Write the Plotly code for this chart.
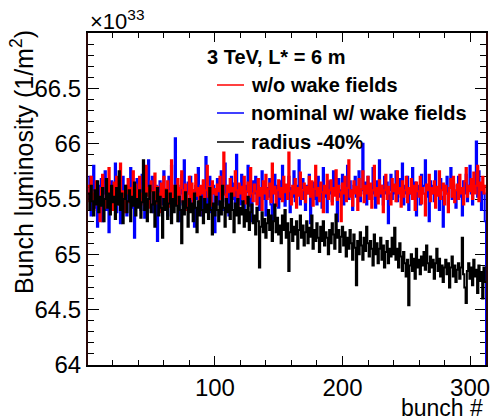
import numpy as np
import plotly.graph_objects as go

bunch = list(range(1, 313))

lumi_no_wake = [
 65.62, 65.48, 65.70, 65.55, 65.40, 65.58, 65.66, 65.45, 65.52, 65.30,
 65.60, 65.72, 65.50, 65.42, 65.63, 65.55, 65.78, 65.47, 65.58, 65.40,
 65.65, 65.53, 65.70, 65.45, 65.60, 65.82, 65.50, 65.57, 65.38, 65.62,
 65.55, 65.68, 65.47, 65.60, 65.52, 65.75, 65.44, 65.63, 65.50, 65.58,
 65.70, 65.45, 65.55, 65.62, 65.48, 65.80, 65.53, 65.60, 65.42, 65.66,
 65.57, 65.50, 65.73, 65.46, 65.61, 65.55, 65.38, 65.64, 65.52, 65.70,
 65.48, 65.59, 65.66, 65.43, 65.57, 65.85, 65.50, 65.62, 65.55, 65.45,
 65.68, 65.52, 65.60, 65.75, 65.47, 65.58, 65.63, 65.40, 65.55, 65.70,
 65.50, 65.64, 65.45, 65.58, 65.72, 65.53, 65.60, 65.36, 65.62, 65.55,
 65.67, 65.49, 65.58, 65.80, 65.52, 65.61, 65.44, 65.66, 65.55, 65.59,
 65.48, 65.63, 65.57, 65.70, 65.50, 65.60, 65.92, 65.54, 65.45, 65.62,
 65.56, 65.68, 65.47, 65.60, 65.53, 65.75, 65.58, 65.42, 65.64, 65.55,
 65.61, 65.50, 65.70, 65.46, 65.57, 65.65, 65.52, 65.78, 65.55, 65.48,
 65.63, 65.57, 65.45, 65.68, 65.53, 65.60, 65.40, 65.66, 65.55, 65.72,
 65.50, 65.59, 65.64, 65.47, 65.82, 65.55, 65.61, 65.44, 65.58, 65.67,
 65.52, 65.60, 65.48, 65.70, 65.56, 65.63, 65.50, 65.92, 65.57, 65.45,
 65.62, 65.55, 65.68, 65.42, 65.60, 65.53, 65.74, 65.50, 65.58, 65.64,
 65.47, 65.61, 65.55, 65.70, 65.52, 65.66, 65.44, 65.59, 65.80, 65.53,
 65.60, 65.48, 65.65, 65.56, 65.38, 65.62, 65.55, 65.72, 65.50, 65.58,
 65.67, 65.45, 65.60, 65.53, 65.76, 65.49, 65.62, 65.56, 65.30, 65.64,
 65.55, 65.70, 65.48, 65.60, 65.85, 65.52, 65.58, 65.44, 65.66, 65.55,
 65.61, 65.40, 65.68, 65.53, 65.59, 65.75, 65.47, 65.62, 65.55, 65.70,
 65.50, 65.64, 65.42, 65.58, 65.80, 65.53, 65.60, 65.46, 65.67, 65.55,
 65.62, 65.38, 65.58, 65.72, 65.50, 65.61, 65.55, 65.45, 65.68, 65.57,
 65.63, 65.48, 65.75, 65.55, 65.60, 65.43, 65.66, 65.52, 65.58, 65.70,
 65.47, 65.60, 65.55, 65.68, 65.50, 65.62, 65.40, 65.65, 65.57, 65.52,
 65.70, 65.46, 65.60, 65.55, 65.35, 65.63, 65.58, 65.72, 65.48, 65.60,
 65.55, 65.66, 65.42, 65.61, 65.53, 65.75, 65.50, 65.58, 65.64, 65.45,
 65.62, 65.55, 65.38, 65.60, 65.68, 65.52, 65.70, 65.47, 65.58, 65.63,
 65.50, 65.72, 65.55, 65.60, 65.45, 65.66, 65.78, 65.52, 65.62, 65.57,
 65.68, 65.50, 65.74, 65.55, 65.62, 65.80, 65.48, 65.65, 65.58, 65.70,
 65.55, 65.62]

lumi_nominal = [
 65.50, 65.70, 65.35, 65.58, 65.80, 65.42, 65.55, 65.25, 65.62, 65.48,
 65.68, 65.30, 65.55, 65.75, 65.40, 65.60, 65.20, 65.52, 65.66, 65.45,
 65.58, 65.82, 65.38, 65.50, 65.65, 65.28, 65.55, 65.70, 65.44, 65.60,
 65.35, 65.62, 65.50, 65.78, 65.42, 65.58, 65.15, 65.55, 65.68, 65.48,
 65.60, 65.40, 65.72, 65.52, 65.33, 65.62, 65.55, 65.85, 65.45, 65.58,
 65.70, 65.38, 65.55, 65.62, 65.12, 65.50, 65.66, 65.45, 65.60, 65.75,
 65.48, 65.58, 65.35, 65.70, 65.52, 65.80, 65.44, 65.60, 66.05, 65.50,
 65.62, 65.30, 65.55, 65.72, 65.45, 65.85, 65.52, 65.40, 65.65, 65.55,
 65.70, 65.42, 65.58, 65.25, 65.62, 65.50, 65.78, 65.45, 65.60, 65.35,
 65.66, 65.52, 65.88, 65.44, 65.58, 65.70, 65.38, 65.55, 65.62, 65.20,
 65.50, 65.68, 65.45, 65.60, 65.75, 65.40, 65.56, 65.82, 65.48, 65.62,
 65.35, 65.58, 65.70, 65.50, 65.64, 65.42, 65.90, 65.55, 65.60, 65.45,
 65.72, 65.52, 65.38, 65.62, 65.56, 65.80, 65.44, 65.60, 65.30, 65.66,
 65.55, 65.70, 65.48, 65.62, 65.40, 65.58, 65.75, 65.50, 65.65, 65.35,
 65.60, 65.52, 65.68, 65.45, 65.25, 65.58, 65.72, 65.55, 65.62, 65.42,
 65.66, 65.50, 65.80, 65.58, 65.44, 65.62, 65.55, 65.70, 65.38, 65.60,
 65.52, 65.75, 65.48, 65.62, 65.56, 65.85, 65.45, 65.60, 65.68, 65.50,
 65.40, 65.62, 65.55, 65.72, 65.28, 65.58, 65.65, 65.50, 65.60, 65.45,
 65.70, 65.55, 65.62, 65.42, 65.78, 65.52, 65.60, 65.38, 65.66, 65.55,
 65.62, 65.48, 65.75, 65.55, 65.60, 65.30, 65.68, 65.52, 65.58, 65.72,
 65.45, 65.62, 65.55, 65.80, 65.50, 65.66, 65.58, 65.40, 65.62, 65.70,
 65.52, 65.60, 65.75, 65.48, 65.58, 66.00, 65.55, 65.65, 65.45, 65.70,
 65.58, 65.62, 65.50, 65.78, 65.55, 65.42, 65.66, 65.60, 65.85, 65.52,
 65.62, 65.45, 65.70, 65.55, 65.65, 65.28, 65.58, 65.72, 65.50, 65.62,
 65.55, 65.75, 65.48, 65.60, 65.68, 65.52, 65.82, 65.45, 65.62, 65.55,
 65.70, 65.40, 65.60, 65.55, 65.78, 65.50, 65.65, 65.35, 65.62, 65.58,
 65.45, 65.72, 65.55, 65.62, 65.85, 65.52, 65.60, 65.30, 65.66, 65.55,
 65.62, 65.48, 65.75, 65.55, 65.60, 65.40, 65.68, 65.52, 65.25, 65.62,
 65.55, 65.70, 65.45, 65.60, 65.78, 65.50, 65.65, 65.55, 65.42, 65.62,
 65.70, 65.52, 65.60, 65.35, 65.66, 65.55, 65.72, 65.48, 65.62, 65.80,
 65.55, 65.45, 65.68, 65.60, 66.02, 65.52, 65.75, 65.58, 65.40, 65.62,
 65.55, 65.30]

lumi_radius40 = [
 65.55, 65.40, 65.62, 65.48, 65.35, 65.58, 65.45, 65.66, 65.38, 65.52,
 65.44, 65.60, 65.30, 65.50, 65.68, 65.42, 65.55, 65.36, 65.62, 65.47,
 65.52, 65.32, 65.60, 65.45, 65.75, 65.40, 65.55, 65.28, 65.50, 65.62,
 65.38, 65.48, 65.58, 65.30, 65.52, 65.44, 65.65, 65.35, 65.50, 65.42,
 65.58, 65.33, 65.47, 65.85, 65.40, 65.55, 65.30, 65.50, 65.62, 65.38,
 65.45, 65.56, 65.25, 65.48, 65.60, 65.35, 65.52, 65.42, 65.15, 65.50,
 65.40, 65.58, 65.32, 65.46, 65.55, 65.28, 65.50, 65.38, 65.62, 65.44,
 65.30, 65.52, 65.40, 65.10, 65.48, 65.36, 65.56, 65.42, 65.25, 65.50,
 65.38, 65.46, 65.30, 65.55, 65.42, 65.20, 65.48, 65.35, 65.52, 65.40,
 65.28, 65.50, 65.38, 65.45, 65.32, 65.60, 65.40, 65.18, 65.46, 65.35,
 65.52, 65.40, 65.30, 65.48, 65.36, 65.62, 65.42, 65.25, 65.50, 65.38,
 65.45, 65.32, 65.55, 65.40, 65.20, 65.46, 65.35, 65.50, 65.28, 65.42,
 65.36, 65.48, 65.25, 65.40, 65.30, 65.52, 65.22, 65.38, 65.45, 65.28,
 65.35, 65.18, 65.42, 65.30, 64.88, 65.25, 65.38, 65.20, 65.32, 65.15,
 65.28, 65.40, 65.22, 65.35, 65.12, 65.30, 65.45, 65.20, 65.33, 65.18,
 65.26, 65.10, 65.35, 65.22, 65.40, 65.15, 65.28, 64.85, 65.20, 65.32,
 65.12, 65.25, 65.18, 65.30, 65.05, 65.22, 65.35, 65.15, 65.26, 65.08,
 65.20, 65.30, 65.10, 65.24, 65.16, 65.35, 65.05, 65.22, 65.12, 65.28,
 65.15, 65.02, 65.25, 65.12, 65.30, 65.08, 65.20, 65.15, 65.00, 65.22,
 65.10, 65.28, 65.18, 65.05, 65.36, 65.15, 65.22, 65.02, 65.16, 65.25,
 65.08, 65.20, 64.98, 65.15, 65.05, 65.22, 65.10, 64.95, 65.18, 65.06,
 64.72, 65.12, 65.00, 65.20, 65.08, 64.95, 65.15, 65.03, 65.25, 65.10,
 64.98, 65.12, 65.05, 64.90, 65.18, 65.00, 65.10, 64.92, 65.05, 65.15,
 64.95, 65.08, 64.88, 65.02, 65.12, 64.92, 65.05, 64.98, 65.15, 65.00,
 65.24, 64.95, 65.05, 64.88, 65.10, 64.98, 64.85, 65.02, 64.92, 64.80,
 64.95, 64.54, 64.90, 65.00, 64.85, 64.96, 64.78, 65.05, 64.88, 64.95,
 64.82, 64.98, 64.90, 65.02, 64.86, 65.08, 64.92, 64.84, 64.98, 64.88,
 64.95, 64.78, 64.92, 65.05, 64.85, 64.96, 64.80, 64.90, 64.75, 64.88,
 64.95, 64.82, 64.92, 64.70, 64.88, 64.98, 64.80, 64.90, 64.75, 64.86,
 64.92, 64.78, 64.88, 65.15, 64.82, 64.70, 64.56, 64.85, 64.92, 64.78,
 64.88, 64.72, 64.95, 64.80, 64.86, 64.65, 64.90, 64.76, 64.84, 64.60,
 64.88, 64.75]

y_min, y_max = 64.0, 67.0
x_min, x_max = 0.5, 312.5

edges = [b - 0.5 for b in bunch] + [bunch[-1] + 0.5]


def step_y(vals):
    return list(vals) + [vals[-1]]


fig = go.Figure()
fig.add_trace(go.Scatter(x=edges + [edges[-1]], y=step_y(lumi_nominal) + [y_min],
                         mode="lines", line=dict(color="#0000ff", width=2, shape="hv"),
                         name="nominal w/ wake fields", showlegend=False))
fig.add_trace(go.Scatter(x=edges, y=step_y(lumi_no_wake), mode="lines",
                         line=dict(color="#ff0000", width=2, shape="hv"),
                         name="w/o wake fields", showlegend=False))
fig.add_trace(go.Scatter(x=edges, y=step_y(lumi_radius40), mode="lines",
                         line=dict(color="#000000", width=2, shape="hv"),
                         name="radius -40%", showlegend=False))

font_main = "Liberation Sans, Arial, Helvetica, sans-serif"

fig.update_layout(
    width=491, height=420,
    margin=dict(l=88, r=5, t=33, b=55, autoexpand=False),
    paper_bgcolor="white", plot_bgcolor="white",
    font=dict(family=font_main, color="black"),
    xaxis=dict(range=[x_min, x_max], showgrid=False, zeroline=False, automargin=False,
               showline=True, linecolor="black", linewidth=2, mirror="ticks",
               ticks="inside", ticklen=9, tickwidth=1.2, tickcolor="black",
               tickvals=[100, 200, 300], ticktext=["100", "200", "300"],
               tickfont=dict(size=24),
               minor=dict(ticks="inside", ticklen=5, tickwidth=1.2,
                          tickvals=[20, 40, 60, 80, 120, 140, 160, 180, 220, 240, 260, 280, 320],
                          tickcolor="black"),
               layer="below traces"),
    yaxis=dict(range=[y_min, y_max], showgrid=False, zeroline=False, automargin=False,
               showline=True, linecolor="#2a0808", linewidth=2, mirror="ticks",
               ticks="inside", ticklen=11, tickwidth=1.2, tickcolor="black",
               tickvals=[64, 64.5, 65, 65.5, 66, 66.5],
               ticktext=["64", "64.5", "65", "65.5", "66", "66.5"],
               tickfont=dict(size=24),
               minor=dict(ticks="inside", ticklen=6, tickwidth=1.2, dtick=0.1,
                          tickcolor="black"),
               layer="below traces"),
)

ann = []
# axis titles
ann.append(dict(text="Bunch luminosity (1/m<sup>2</sup>)", xref="paper", yref="paper",
                x=(22 - 88) / 398, y=(365 - 162) / 332, textangle=-90, showarrow=False,
                font=dict(size=25), xanchor="center", yanchor="middle"))
ann.append(dict(text="bunch #", xref="paper", yref="paper",
                x=(485 - 88) / 398, y=(365 - 408) / 332, showarrow=False,
                font=dict(size=23), xanchor="right", yanchor="middle"))
ann.append(dict(text="×10<sup>33</sup>", xref="paper", yref="paper",
                x=0.0, y=(365 - 20) / 332, showarrow=False,
                font=dict(size=22), xanchor="left", yanchor="middle"))
# legend
ann.append(dict(text="<b>3 TeV, L* = 6 m</b>", xref="paper", yref="paper",
                x=(205 - 88) / 398, y=(365 - 57) / 332, showarrow=False,
                font=dict(size=20), xanchor="left", yanchor="middle"))
legend_items = [("w/o wake fields", "#ff0000", 85),
                ("nominal w/ wake fields", "#0000ff", 113),
                ("radius -40%", "#000000", 142)]
shapes = []
for label, col, py in legend_items:
    ann.append(dict(text="<b>" + label + "</b>", xref="paper", yref="paper",
                    x=(249 - 88) / 398, y=(365 - py) / 332, showarrow=False,
                    font=dict(size=20), xanchor="left", yanchor="middle"))
    shapes.append(dict(type="line", xref="paper", yref="paper",
                       x0=(217 - 88) / 398, x1=(244 - 88) / 398,
                       y0=(365 - py) / 332, y1=(365 - py) / 332,
                       line=dict(color=col, width=1.5)))
fig.update_layout(annotations=ann, shapes=shapes)

fig.write_html("out.html", config={"displayModeBar": False},
               post_script="document.body.style.margin='0';document.body.style.padding='0';")
